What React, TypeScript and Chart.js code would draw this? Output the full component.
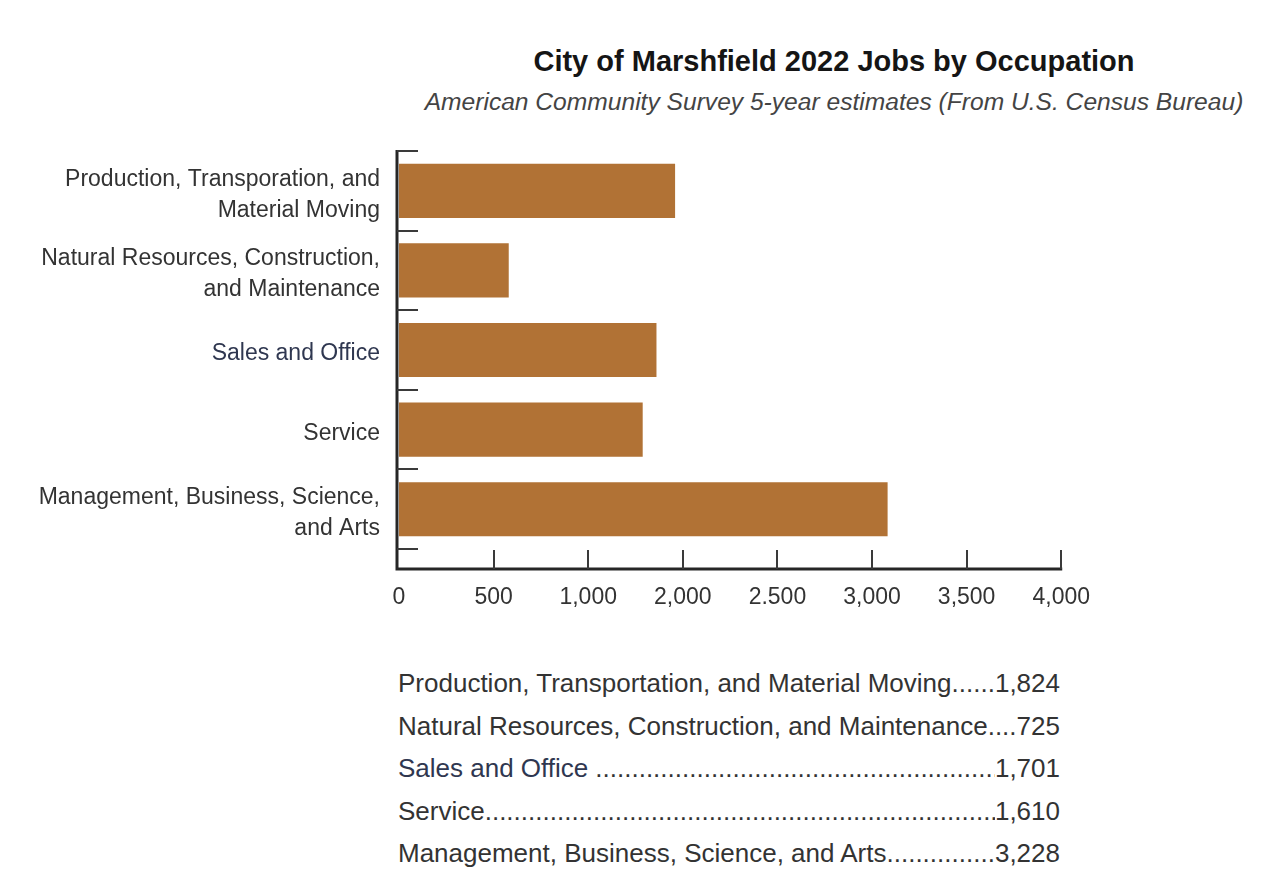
import React, { useEffect, useRef } from 'react';
import { Chart, registerables } from 'chart.js';

Chart.register(...registerables);

const CATEGORIES: (string | string[])[] = [
  ['Production, Transporation, and', 'Material Moving'],
  ['Natural Resources, Construction,', 'and Maintenance'],
  'Sales and Office',
  'Service',
  ['Management, Business, Science,', 'and Arts'],
];
const VALUES = [1824, 725, 1701, 1610, 3228];
const X_TICK_LABELS = ['0', '500', '1,000', '2,000', '2.500', '3,000', '3,500', '4,000'];
const AXIS_MAX = 4375;
const AXIS_STEP = 625;
const TABLE_LABELS = [
  'Production, Transportation, and Material Moving',
  'Natural Resources, Construction, and Maintenance',
  'Sales and Office',
  'Service',
  'Management, Business, Science, and Arts',
];

const FONT = "'Liberation Sans', Arial, Helvetica, sans-serif";
const BAR_COLOR = '#B17235';
const TEXT = '#333333';
const NAVY = '#2f3750';

const axisPlugin = {
  id: 'customAxes',
  afterDatasetsDraw(chart: any) {
    const { ctx, chartArea, scales } = chart;
    const x = scales.x;
    const y = scales.y;
    const axisY = chartArea.bottom + 20;
    const axisX = chartArea.left - 2;
    ctx.save();
    ctx.strokeStyle = '#262626';
    ctx.lineWidth = 3;
    ctx.beginPath();
    ctx.moveTo(axisX, chartArea.top - 1);
    ctx.lineTo(axisX, axisY);
    ctx.lineTo(x.getPixelForValue(AXIS_MAX) + 1, axisY);
    ctx.stroke();

    ctx.strokeStyle = '#3a3a3a';
    ctx.lineWidth = 2;
    ctx.beginPath();
    const n = CATEGORIES.length;
    const half = (y.getPixelForValue(1) - y.getPixelForValue(0)) / 2;
    for (let i = 0; i <= n; i++) {
      const py = Math.round(i < n ? y.getPixelForValue(i) - half : y.getPixelForValue(n - 1) + half);
      ctx.moveTo(axisX, py);
      ctx.lineTo(axisX + 21, py);
    }
    x.ticks.forEach((t: any, i: number) => {
      if (i === 0) return;
      const px = Math.round(x.getPixelForValue(t.value));
      ctx.moveTo(px, axisY);
      ctx.lineTo(px, axisY - 19);
    });
    ctx.stroke();
    ctx.restore();
  },
};

function BarChart() {
  const ref = useRef<HTMLCanvasElement | null>(null);
  useEffect(() => {
    if (!ref.current) return;
    const chart = new Chart(ref.current, {
      type: 'bar',
      data: {
        labels: CATEGORIES,
        datasets: [
          {
            data: VALUES,
            backgroundColor: BAR_COLOR,
            borderWidth: 0,
            barPercentage: 0.68,
            categoryPercentage: 1,
          },
        ],
      },
      options: {
        indexAxis: 'y',
        animation: false,
        responsive: false,
        maintainAspectRatio: false,
        layout: { padding: { top: 21, right: 0, left: 0, bottom: 0 } },
        plugins: {
          legend: { display: false },
          tooltip: { enabled: false },
          title: { display: false },
        },
        scales: {
          x: {
            type: 'linear',
            min: 0,
            max: AXIS_MAX,
            grid: { display: false, drawTicks: false },
            border: { display: false },
            ticks: {
              stepSize: AXIS_STEP,
              padding: 35,
              color: TEXT,
              font: { family: FONT, size: 23 },
              maxRotation: 0,
              autoSkip: false,
              callback: (_v: any, i: number) => X_TICK_LABELS[i],
            },
            afterFit: (s: any) => {
              s.height = 81;
            },
          },
          y: {
            type: 'category',
            grid: { display: false, drawTicks: false },
            border: { display: false },
            ticks: {
              padding: 19,
              labelOffset: 4,
              color: (c: any) => (c.index === 2 ? NAVY : TEXT),
              font: { family: FONT, size: 23, lineHeight: 1.35 },
              autoSkip: false,
            },
            afterFit: (s: any) => {
              s.width = 391;
            },
          },
        },
      },
      plugins: [axisPlugin],
    });
    return () => chart.destroy();
  }, []);
  return (
    <canvas
      ref={ref}
      width={1117}
      height={529}
      style={{ position: 'absolute', left: 0, top: 93, width: 1117, height: 529 }}
    />
  );
}

export default function App() {
  const dots = '.'.repeat(200);
  return (
    <div style={{ position: 'relative', width: 1263, height: 867, fontFamily: FONT, background: '#fff' }}>
      <div
        style={{
          position: 'absolute',
          left: 426,
          width: 800,
          top: 36,
          textAlign: 'center',
          fontSize: 29,
          lineHeight: '34px',
          fontWeight: 'bold',
          color: '#151515',
        }}
      >
        City of Marshfield 2022 Jobs by Occupation
      </div>
      <div
        style={{
          position: 'absolute',
          left: 376,
          width: 900,
          top: 80,
          textAlign: 'center',
          fontSize: 24.6,
          lineHeight: '28px',
          fontStyle: 'italic',
          color: '#444',
        }}
      >
        American Community Survey 5-year estimates (From U.S. Census Bureau)
      </div>
      <BarChart />
      <div style={{ position: 'absolute', left: 390, top: 654, width: 662 }}>
        {TABLE_LABELS.map((label, i) => (
          <div
            key={label}
            style={{
              display: 'flex',
              fontSize: 26,
              lineHeight: '42.5px',
              color: i === 2 ? NAVY : TEXT,
              whiteSpace: 'nowrap',
            }}
          >
            <span style={{ paddingRight: i === 2 ? 7 : 0 }}>{label}</span>
            <span style={{ flex: 1, overflow: 'hidden', color: TEXT }}>{dots}</span>
            <span style={{ color: TEXT }}>{VALUES[i].toLocaleString('en-US')}</span>
          </div>
        ))}
      </div>
    </div>
  );
}
